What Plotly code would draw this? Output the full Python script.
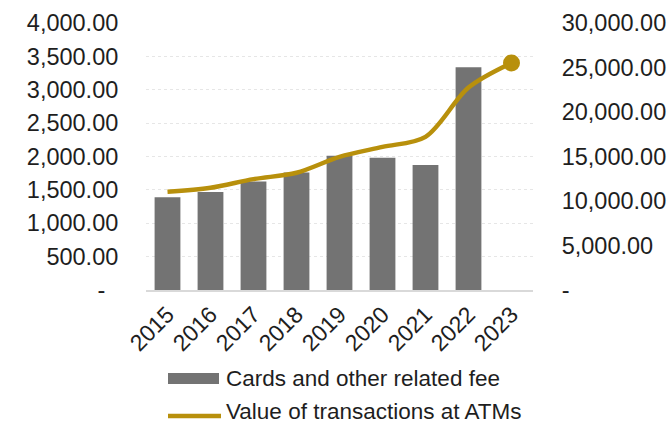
import plotly.graph_objects as go

# Data
years = ["2015", "2016", "2017", "2018", "2019", "2020", "2021", "2022", "2023"]
card_fees = [1390, 1467, 1627, 1762, 2010, 1981, 1871, 3338]          # left axis
atm_values = [11030, 11480, 12460, 13170, 14960, 16080, 17210, 22750, 25510]  # right axis

left_ticks = [0, 500, 1000, 1500, 2000, 2500, 3000, 3500, 4000]
right_ticks = [0, 5000, 10000, 15000, 20000, 25000, 30000]

BAR_COLOR = "#737373"
LINE_COLOR = "#B8900C"
TEXT_COLOR = "#1e1e1e"
FONT = "Liberation Sans, Arial, sans-serif"
FS = 23
TICK_FS = 23.5

W, H = 667, 424
ML, MR, MT, MB = 146, 134, 23, 134


def fmt(v):
    return f"{v:,.2f}" if v else "-"


fig = go.Figure()

fig.add_trace(go.Bar(
    x=years[:len(card_fees)], y=card_fees,
    name="Cards and other related fee",
    marker=dict(color=BAR_COLOR, line=dict(width=0)),
    showlegend=False,
))

fig.add_trace(go.Scatter(
    x=years, y=atm_values, yaxis="y2",
    name="Value of transactions at ATMs",
    mode="lines",
    line=dict(color=LINE_COLOR, width=4.5, shape="spline", smoothing=0.9),
    showlegend=False,
))

# end-point marker on the latest value
fig.add_trace(go.Scatter(
    x=years[-1:], y=atm_values[-1:], yaxis="y2",
    mode="markers",
    marker=dict(color=LINE_COLOR, size=17, opacity=1, line=dict(width=0)),
    showlegend=False, hoverinfo="skip",
))

fig.update_layout(
    width=W, height=H,
    margin=dict(l=ML, r=MR, t=MT, b=MB, autoexpand=False),
    paper_bgcolor="white", plot_bgcolor="white",
    font=dict(family=FONT, size=FS, color=TEXT_COLOR),
    bargap=0.4,
    xaxis=dict(
        type="category", categoryorder="array", categoryarray=years,
        range=[-0.5, len(years) - 0.5], automargin=False,
        tickangle=-45, showgrid=False,
        showline=True, linecolor="#d9d9d9", linewidth=2,
        ticks="", tickfont=dict(family=FONT, size=FS, color=TEXT_COLOR),
    ),
    yaxis=dict(
        range=[0, 4000], tickvals=left_ticks, automargin=False,
        ticktext=[fmt(v) if v else "-\u00a0\u00a0" for v in left_ticks],
        tickfont=dict(family=FONT, size=TICK_FS, color=TEXT_COLOR),
        showgrid=True, gridcolor="#e6e6e6", griddash="dot", gridwidth=1,
        zeroline=False, showline=False,
        ticks="outside", ticklen=22, tickcolor="rgba(0,0,0,0)",
    ),
    yaxis2=dict(
        range=[0, 30000], tickvals=right_ticks, automargin=False,
        ticktext=[fmt(v) for v in right_ticks],
        tickfont=dict(family=FONT, size=TICK_FS, color=TEXT_COLOR),
        overlaying="y", side="right",
        showgrid=False, zeroline=False, showline=False,
        ticks="outside", ticklen=23, tickcolor="rgba(0,0,0,0)",
    ),
)

# Legend drawn beneath the axis labels
pw, ph = W - ML - MR, H - MT - MB


def px_x(x):
    return (x - ML) / pw


def px_y(y):
    return (H - MB - y) / ph


LEG_FS = 22.5
fig.add_shape(type="rect", xref="paper", yref="paper",
              x0=px_x(168), x1=px_x(219), y0=px_y(384), y1=px_y(373),
              fillcolor=BAR_COLOR, line=dict(width=0))
fig.add_shape(type="line", xref="paper", yref="paper",
              x0=px_x(168), x1=px_x(221), y0=px_y(416), y1=px_y(416),
              line=dict(color=LINE_COLOR, width=4.5))
fig.add_annotation(xref="paper", yref="paper", x=px_x(224), y=px_y(378.5),
                   text="Cards and other related fee", showarrow=False,
                   xanchor="left", yanchor="middle", font=dict(size=LEG_FS))
fig.add_annotation(xref="paper", yref="paper", x=px_x(224), y=px_y(411),
                   text="Value of transactions at ATMs", showarrow=False,
                   xanchor="left", yanchor="middle", font=dict(size=LEG_FS))

fig.write_html("out.html")
